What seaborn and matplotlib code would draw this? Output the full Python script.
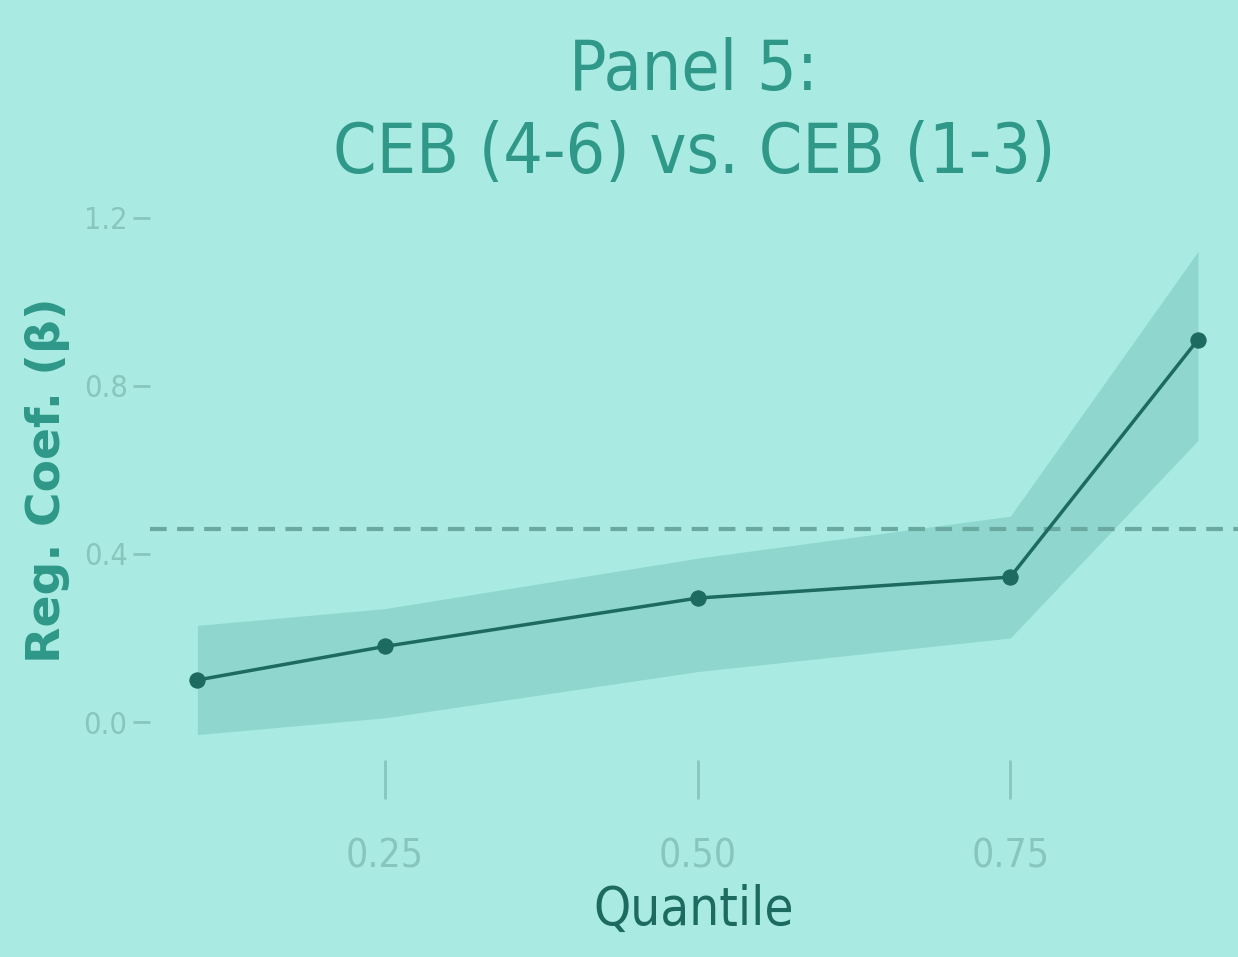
import numpy as np
import pandas as pd
import matplotlib
matplotlib.use("Agg")
import matplotlib.pyplot as plt
import seaborn as sns

quantiles = [0.10, 0.25, 0.50, 0.75, 0.90]
coef = [0.10, 0.18, 0.295, 0.345, 0.91]
ci_low = [-0.03, 0.01, 0.12, 0.20, 0.67]
ci_high = [0.23, 0.27, 0.39, 0.49, 1.12]
ols_coef = 0.46

x_ticks = [0.25, 0.50, 0.75]
y_ticks = [0.0, 0.4, 0.8, 1.2]

bg = "#a9ebe3"
dark = "#1d6a60"
teal = "#2f9888"
faint = "#86c6bd"

sns.set_theme(style="ticks")
plt.rcParams["font.family"] = ["DejaVu Sans"]
plt.rcParams["font.stretch"] = "condensed"

df = pd.DataFrame({"quantile": quantiles, "coef": coef})

fig = plt.figure(figsize=(12.38, 9.57), dpi=100, facecolor=bg)
ax = fig.add_axes([0.121, 0.206, 0.879, 0.584])
ax.set_facecolor(bg)

ax.fill_between(quantiles, ci_low, ci_high, color="#5fb3a8", alpha=0.35, linewidth=0)
ax.axhline(ols_coef, color="#6aa9a0", linestyle=(0, (4, 2.5)), linewidth=3)
sns.lineplot(data=df, x="quantile", y="coef", ax=ax, color=dark, linewidth=2.5,
             marker="o", markersize=11, markeredgecolor=dark)

ax.set_xlim(0.062, 0.932)
ax.set_ylim(-0.09, 1.24)
ax.set_xticks(x_ticks)
ax.set_xticklabels(["0.25", "0.50", "0.75"])
ax.set_yticks(y_ticks)
ax.set_yticklabels(["0.0", "0.4", "0.8", "1.2"])
ax.tick_params(axis="x", length=28, width=2, color=faint, labelcolor=faint,
               labelsize=28, pad=28)
ax.tick_params(axis="y", length=12, width=2, color=faint, labelcolor=faint,
               labelsize=22, pad=4)
sns.despine(ax=ax, left=True, bottom=True)

ax.set_xlabel("Quantile", color=dark, fontsize=38, labelpad=6)
ax.set_ylabel("Reg. Coef. (β)", color=teal, fontsize=34, labelpad=10,
              fontweight="bold", fontstretch="normal")
ax.set_title("Panel 5:\nCEB (4-6) vs. CEB (1-3)", color=teal, fontsize=50,
             pad=20, linespacing=1.3)

fig.savefig("out.png", dpi=100, facecolor=bg)
